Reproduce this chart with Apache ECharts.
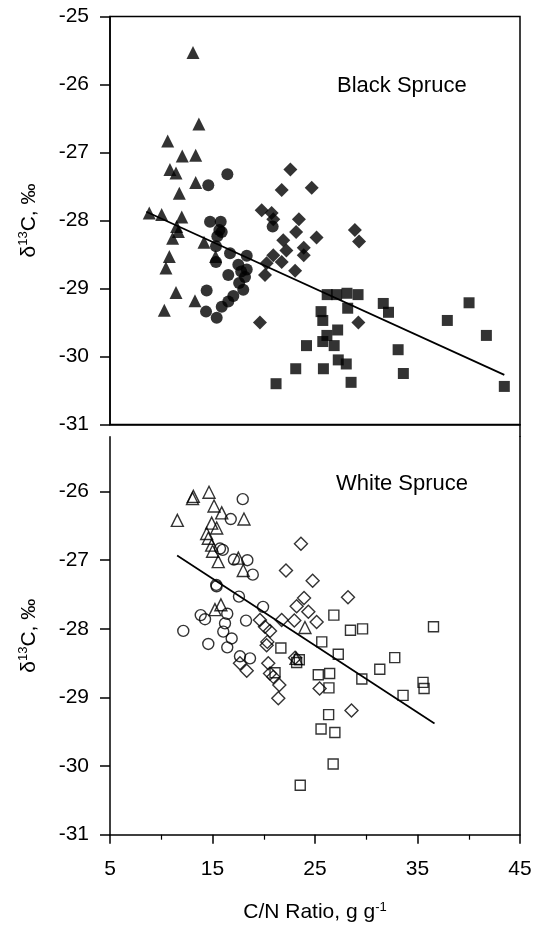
<!DOCTYPE html>
<html>
<head>
<meta charset="utf-8">
<title>δ13C vs C/N ratio — Black and White Spruce</title>
<script src="https://cdn.jsdelivr.net/npm/echarts@6/dist/echarts.min.js"></script>
<style>
  html, body { margin: 0; padding: 0; background: #fff; }
  #chart { width: 541px; height: 927px; }
</style>
</head>
<body>
<div id="chart"></div>
<script>
// ---- Black spruce (filled symbols), [C/N ratio, δ13C] ----
const blackTriangles = [
  [13.10, -25.53], [13.67, -26.58], [10.63, -26.83], [12.05, -27.05], [13.36, -27.04],
  [10.85, -27.25], [11.44, -27.30], [13.36, -27.44], [11.76, -27.60], [8.83, -27.89],
  [10.04, -27.91], [12.00, -27.95], [11.50, -28.09], [11.67, -28.16], [11.11, -28.26],
  [14.17, -28.32], [10.79, -28.53], [10.46, -28.70], [11.44, -29.06], [13.29, -29.18],
  [10.30, -29.32], [15.30, -28.53]
];
const blackCircles = [
  [16.45, -27.32], [14.59, -27.48], [14.76, -28.02], [15.80, -28.02], [15.67, -28.14],
  [15.47, -28.23], [15.34, -28.38], [16.71, -28.48], [18.34, -28.52], [15.34, -28.61],
  [17.52, -28.65], [18.34, -28.72], [16.54, -28.80], [18.17, -28.83], [18.00, -29.02],
  [14.43, -29.03], [17.03, -29.11], [16.54, -29.19], [15.90, -29.27], [14.37, -29.34],
  [15.41, -29.43], [20.87, -28.09], [15.90, -28.17], [17.80, -28.75], [17.60, -28.92]
];
const blackDiamonds = [
  [22.60, -27.25], [21.75, -27.55], [24.68, -27.52], [19.80, -27.85], [20.77, -27.89],
  [20.93, -27.98], [23.43, -27.98], [23.16, -28.17], [25.15, -28.25], [21.90, -28.29],
  [28.89, -28.14], [29.30, -28.31], [23.90, -28.40], [22.21, -28.44], [23.90, -28.51],
  [20.93, -28.51], [20.28, -28.63], [21.75, -28.61], [23.06, -28.74], [20.12, -28.80],
  [19.63, -29.50], [29.23, -29.50]
];
const blackSquares = [
  [26.19, -29.09], [27.11, -29.09], [28.12, -29.07], [29.20, -29.09], [31.66, -29.22],
  [32.17, -29.35], [40.03, -29.21], [37.91, -29.47], [41.72, -29.69], [25.59, -29.34],
  [25.76, -29.47], [28.19, -29.29], [27.21, -29.61], [26.16, -29.69], [25.76, -29.78],
  [26.87, -29.84], [24.17, -29.84], [33.11, -29.90], [27.27, -30.05], [28.05, -30.11],
  [23.12, -30.18], [25.82, -30.18], [33.62, -30.25], [28.52, -30.38], [21.20, -30.40],
  [43.47, -30.44]
];
const blackFitX = [8.54, 43.47];
const blackFitY = [-27.87, -30.27];

// ---- White spruce (open symbols), [C/N ratio, δ13C] ----
const whiteTriangles = [
  [13.13, -26.07], [13.05, -26.10], [14.66, -26.01], [11.57, -26.42], [15.15, -26.21],
  [15.90, -26.31], [18.07, -26.40], [14.92, -26.46], [15.41, -26.53], [14.43, -26.61],
  [14.59, -26.68], [14.92, -26.78], [15.01, -26.87], [15.56, -27.02], [17.52, -26.97],
  [18.00, -27.15], [15.82, -27.65], [15.24, -27.72], [24.02, -27.98], [23.15, -28.43]
];
const whiteCircles = [
  [17.95, -26.11], [16.78, -26.40], [15.73, -26.83], [17.09, -26.99], [18.40, -27.00],
  [18.93, -27.21], [15.37, -27.36], [17.58, -27.53], [19.93, -27.68], [13.85, -27.80],
  [14.27, -27.86], [16.44, -27.78], [18.27, -27.88], [16.22, -27.92], [12.15, -28.03],
  [16.05, -28.04], [16.87, -28.14], [14.59, -28.22], [16.44, -28.27], [17.68, -28.40],
  [18.66, -28.43], [15.40, -27.38], [16.00, -26.85]
];
const whiteDiamonds = [
  [23.63, -26.76], [22.17, -27.15], [24.77, -27.30], [28.22, -27.54], [23.93, -27.55],
  [23.21, -27.67], [24.35, -27.75], [21.75, -27.87], [22.98, -27.88], [25.16, -27.90],
  [19.63, -27.87], [20.12, -27.97], [20.61, -28.03], [20.35, -28.19], [20.28, -28.24],
  [23.06, -28.42], [17.68, -28.50], [18.34, -28.61], [20.44, -28.50], [20.61, -28.65],
  [20.93, -28.70], [21.52, -28.82], [21.42, -29.01], [25.45, -28.87], [28.56, -29.19]
];
const whiteSquares = [
  [26.84, -27.80], [28.46, -28.02], [29.64, -28.00], [36.56, -27.97], [25.66, -28.19],
  [21.67, -28.28], [27.27, -28.37], [23.21, -28.49], [23.47, -28.45], [32.78, -28.42],
  [31.32, -28.59], [25.32, -28.67], [26.43, -28.65], [29.57, -28.73], [35.54, -28.78],
  [35.64, -28.87], [26.36, -28.86], [33.59, -28.97], [26.33, -29.25], [25.59, -29.46],
  [26.94, -29.51], [26.77, -29.97], [23.56, -30.28], [21.10, -28.64]
];
const whiteFitX = [11.55, 36.66];
const whiteFitY = [-26.93, -29.38];

// ---- Axis ticks and labels ----
const xTicks = [5, 15, 25, 35, 45];
const xMinorTicks = [10, 20, 30, 40];
const yTicksTop = [-31, -30, -29, -28, -27, -26, -25];
const yTicksBottom = [-31, -30, -29, -28, -27, -26];
const panelTitles = ['Black Spruce', 'White Spruce'];

const FONT = '"Liberation Sans", Arial, Helvetica, sans-serif';
const INK = '#000';

function fitLine(xs, ys) {
  return xs.map((x, i) => [x, ys[i]]);
}

const yName = '{d|δ}{s|13}{d|C, ‰}';
const nameRich = {
  d: { fontSize: 21, fontFamily: FONT, color: INK, lineHeight: 24 },
  s: { fontSize: 13, fontFamily: FONT, color: INK, lineHeight: 13, verticalAlign: 'top' }
};

function yAxisLeft(gridIndex, min, max, ticks) {
  return {
    type: 'value', gridIndex, min, max, position: 'left',
    name: yName, nameLocation: 'middle', nameGap: 69, nameRotate: 90,
    nameTextStyle: { rich: nameRich },
    axisLine: { show: true, lineStyle: { color: INK, width: 1.5 } },
    axisTick: { show: true, inside: false, length: 10, customValues: ticks,
                lineStyle: { color: INK, width: 1.5 } },
    axisLabel: { show: true, customValues: ticks, margin: 21,
                 fontSize: 21, fontFamily: FONT, color: INK },
    splitLine: { show: false }
  };
}

function symbolSeries(data, symbol, size, filled, xi, yi) {
  return {
    type: 'scatter', xAxisIndex: xi, yAxisIndex: yi, data,
    symbol, symbolSize: size,
    itemStyle: filled
      ? { color: INK, borderWidth: 0 }
      : { color: 'transparent', borderColor: INK, borderWidth: 1.4 },
    emphasis: { disabled: true },
    z: 3
  };
}

const chart = echarts.init(document.getElementById('chart'), null, { renderer: 'canvas' });

chart.setOption({
  animation: false,
  backgroundColor: '#fff',
  title: [
    { text: panelTitles[0], left: 337, top: 74, padding: 0,
      textStyle: { fontSize: 22, fontWeight: 'normal', fontFamily: FONT, color: INK, lineHeight: 24 } },
    { text: panelTitles[1], left: 336, top: 472, padding: 0,
      textStyle: { fontSize: 22, fontWeight: 'normal', fontFamily: FONT, color: INK, lineHeight: 24 } }
  ],
  grid: [
    { left: 110, top: 16.5, width: 410, height: 408, containLabel: false, outerBoundsMode: 'none',
      show: true, borderColor: INK, borderWidth: 1.5, backgroundColor: 'transparent' },
    { left: 110, top: 436.7, width: 410, height: 398, containLabel: false, outerBoundsMode: 'none' }
  ],
  // the right-hand frame runs unbroken between the two panels
  graphic: [
    { type: 'line', silent: true, z: 10,
      shape: { x1: 520, y1: 424, x2: 520, y2: 437 },
      style: { stroke: INK, lineWidth: 1.5 } }
  ],
  xAxis: [
    { type: 'value', gridIndex: 0, min: 5, max: 45, position: 'bottom',
      axisLine: { show: true, lineStyle: { color: INK, width: 1.5 } },
      axisTick: { show: false }, axisLabel: { show: false }, splitLine: { show: false } },
    { type: 'value', gridIndex: 1, min: 5, max: 45, position: 'bottom',
      name: '{d|C/N Ratio, g g}{s|-1}', nameLocation: 'middle', nameGap: 66,
      nameTextStyle: { rich: nameRich },
      axisLine: { show: true, lineStyle: { color: INK, width: 1.5 } },
      axisTick: { show: true, inside: false, length: 9, customValues: xTicks,
                  lineStyle: { color: INK, width: 1.5 } },
      axisLabel: { show: true, customValues: xTicks, margin: 24,
                   fontSize: 21, fontFamily: FONT, color: INK },
      splitLine: { show: false } },
    // minor ticks between the labelled ones
    { type: 'value', gridIndex: 1, min: 5, max: 45, position: 'bottom',
      axisLine: { show: false },
      axisTick: { show: true, inside: false, length: 5, customValues: xMinorTicks,
                  lineStyle: { color: INK, width: 1.2 } },
      axisLabel: { show: false }, splitLine: { show: false } }
  ],
  yAxis: [
    yAxisLeft(0, -31, -25, yTicksTop),
    yAxisLeft(1, -31, -25.2, yTicksBottom),
    { type: 'value', gridIndex: 1, min: -31, max: -25.2, position: 'right',
      axisLine: { show: true, lineStyle: { color: INK, width: 1.5 } },
      axisTick: { show: false }, axisLabel: { show: false }, splitLine: { show: false } }
  ],
  series: [
    { type: 'line', xAxisIndex: 0, yAxisIndex: 0, data: fitLine(blackFitX, blackFitY),
      showSymbol: false, symbol: 'none', lineStyle: { color: INK, width: 1.7 }, z: 2,
      emphasis: { disabled: true } },
    symbolSeries(blackTriangles, 'triangle', 13, true, 0, 0),
    symbolSeries(blackCircles, 'circle', 12, true, 0, 0),
    symbolSeries(blackDiamonds, 'diamond', 14, true, 0, 0),
    symbolSeries(blackSquares, 'rect', 11, true, 0, 0),

    { type: 'line', xAxisIndex: 1, yAxisIndex: 1, data: fitLine(whiteFitX, whiteFitY),
      showSymbol: false, symbol: 'none', lineStyle: { color: INK, width: 1.7 }, z: 2,
      emphasis: { disabled: true } },
    symbolSeries(whiteTriangles, 'triangle', 12, false, 1, 1),
    symbolSeries(whiteCircles, 'circle', 11, false, 1, 1),
    symbolSeries(whiteDiamonds, 'diamond', 13, false, 1, 1),
    symbolSeries(whiteSquares, 'rect', 10, false, 1, 1)
  ]
});
</script>
</body>
</html>
